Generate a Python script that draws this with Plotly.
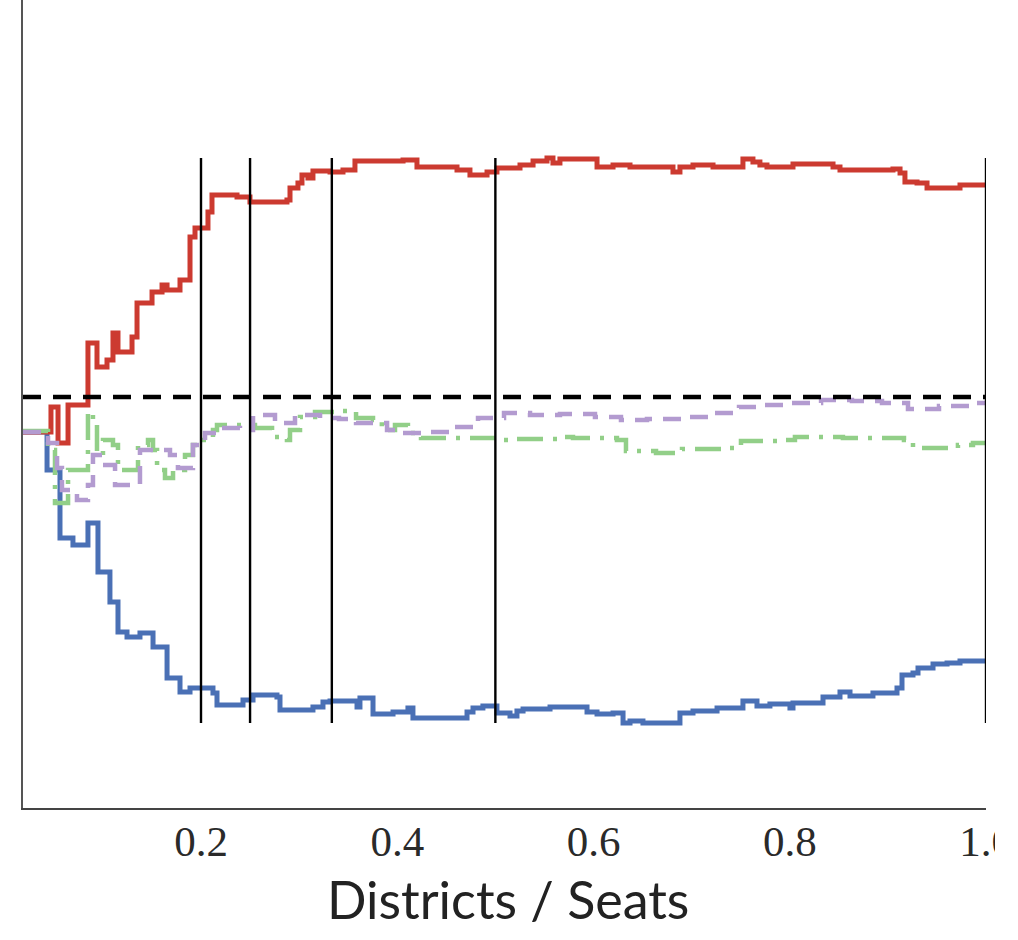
import plotly.graph_objects as go

# ---- data (x = districts/seats fraction, y = metric value, 0 = reference) ----
red_x = [0.0186, 0.0471, 0.0543, 0.0645, 0.0848, 0.0940, 0.1042, 0.1103, 0.1154, 0.1297,
         0.1348, 0.1501, 0.1603, 0.1654, 0.1786, 0.1888, 0.1939, 0.2071, 0.2112, 0.2367,
         0.2499, 0.2876, 0.2907, 0.2988, 0.3029, 0.3090, 0.3141, 0.3315, 0.3447, 0.3569,
         0.4059, 0.4201, 0.4609, 0.4741, 0.4812, 0.4915, 0.5016, 0.5251, 0.5384, 0.5526,
         0.5587, 0.5658, 0.5934, 0.6036, 0.6199, 0.6372, 0.6677, 0.6810, 0.6881, 0.7014,
         0.7218, 0.7523, 0.7625, 0.7696, 0.7768, 0.8033, 0.8441, 0.8512, 0.9052, 0.9124,
         0.9174, 0.9297, 0.9399, 0.9664, 0.9735, 1.0]
red_y = [-0.035, -0.010, -0.046, -0.008, 0.054, 0.030, 0.037, 0.064, 0.045, 0.060,
         0.094, 0.105, 0.112, 0.107, 0.117, 0.160, 0.169, 0.185, 0.202, 0.200,
         0.195, 0.197, 0.209, 0.214, 0.222, 0.219, 0.226, 0.225, 0.227, 0.236,
         0.237, 0.230, 0.227, 0.222, 0.222, 0.225, 0.229, 0.232, 0.236, 0.239,
         0.234, 0.238, 0.238, 0.230, 0.232, 0.230, 0.230, 0.225, 0.230, 0.232,
         0.230, 0.238, 0.235, 0.232, 0.230, 0.233, 0.230, 0.227, 0.228, 0.224,
         0.215, 0.214, 0.209, 0.209, 0.212, 0.213]

blue_x = [0.0186, 0.0431, 0.0563, 0.0695, 0.0848, 0.0950, 0.1072, 0.1154, 0.1246, 0.1378,
          0.1511, 0.1654, 0.1786, 0.1888, 0.2122, 0.2163, 0.2428, 0.2530, 0.2774, 0.2805,
          0.3141, 0.3243, 0.3315, 0.3590, 0.3620, 0.3753, 0.3957, 0.4109, 0.4160, 0.4711,
          0.4772, 0.4873, 0.5016, 0.5149, 0.5220, 0.5282, 0.5557, 0.5934, 0.6036, 0.6199,
          0.6301, 0.6372, 0.6504, 0.6881, 0.7014, 0.7259, 0.7523, 0.7666, 0.7798, 0.8002,
          0.8033, 0.8339, 0.8512, 0.8614, 0.8848, 0.9093, 0.9144, 0.9256, 0.9307, 0.9460,
          0.9603, 0.9735, 1.0]
blue_y = [-0.035, -0.073, -0.141, -0.148, -0.126, -0.175, -0.205, -0.235, -0.240, -0.236,
          -0.250, -0.281, -0.295, -0.291, -0.296, -0.308, -0.303, -0.298, -0.300, -0.313,
          -0.310, -0.305, -0.304, -0.310, -0.301, -0.317, -0.315, -0.311, -0.321, -0.315,
          -0.311, -0.309, -0.316, -0.319, -0.314, -0.312, -0.310, -0.315, -0.317, -0.316,
          -0.326, -0.324, -0.326, -0.316, -0.314, -0.311, -0.304, -0.309, -0.307, -0.311,
          -0.306, -0.300, -0.295, -0.299, -0.296, -0.291, -0.278, -0.276, -0.271, -0.267,
          -0.266, -0.264, -0.262]

green_x = [0.0186, 0.0441, 0.0512, 0.0645, 0.0848, 0.0899, 0.0940, 0.1001, 0.1103, 0.1154,
           0.1358, 0.1460, 0.1511, 0.1552, 0.1633, 0.1715, 0.1837, 0.1918, 0.1990, 0.2122,
           0.2163, 0.2550, 0.2724, 0.2876, 0.2907, 0.3009, 0.3162, 0.3447, 0.3580, 0.3753,
           0.3843, 0.3977, 0.4109, 0.4242, 0.5047, 0.5188, 0.5658, 0.5791, 0.6239, 0.6331,
           0.6637, 0.6902, 0.7370, 0.7503, 0.7921, 0.8053, 0.8542, 0.9164, 0.9256, 0.9714,
           0.9867, 1.0]
green_y = [-0.034, -0.053, -0.106, -0.073, -0.015, -0.028, -0.058, -0.043, -0.048, -0.073,
           -0.048, -0.043, -0.053, -0.073, -0.081, -0.073, -0.058, -0.048, -0.043, -0.033,
           -0.028, -0.031, -0.040, -0.043, -0.033, -0.020, -0.015, -0.014, -0.021, -0.023,
           -0.033, -0.028, -0.036, -0.041, -0.043, -0.042, -0.040, -0.041, -0.043, -0.054,
           -0.056, -0.052, -0.051, -0.044, -0.043, -0.040, -0.041, -0.043, -0.051, -0.048,
           -0.046, -0.046]

purple_x = [0.0186, 0.0441, 0.0533, 0.0583, 0.0736, 0.0848, 0.0899, 0.1001, 0.1124, 0.1378,
            0.1552, 0.1684, 0.1765, 0.1918, 0.2041, 0.2194, 0.2397, 0.2530, 0.2754, 0.2958,
            0.3213, 0.3406, 0.3580, 0.3896, 0.4028, 0.4242, 0.4558, 0.4823, 0.5088, 0.5353,
            0.5658, 0.6015, 0.6280, 0.6545, 0.6902, 0.7167, 0.7483, 0.7697, 0.8013, 0.8319,
            0.8634, 0.8940, 0.9205, 0.9521, 0.9827, 1.0]
purple_y = [-0.035, -0.046, -0.071, -0.093, -0.103, -0.088, -0.058, -0.068, -0.088, -0.053,
            -0.053, -0.058, -0.071, -0.048, -0.036, -0.031, -0.033, -0.018, -0.026, -0.018,
            -0.021, -0.022, -0.026, -0.033, -0.036, -0.035, -0.030, -0.021, -0.016, -0.018,
            -0.017, -0.020, -0.023, -0.022, -0.020, -0.016, -0.010, -0.008, -0.006, -0.003,
            -0.004, -0.006, -0.012, -0.009, -0.006, -0.006]

ref_level = 0.0
vline_x = [0.2, 0.25, 1 / 3, 0.5, 1.0]
x_ticks = [0.2, 0.4, 0.6, 0.8, 1.0]
x_tick_text = ["0.2", "0.4", "0.6", "0.8", "1.0"]
x_title = "Districts / Seats"

x_range = [0.0186, 1.0]
y_range = [-0.411, 0.397]

fig = go.Figure()
fig.add_trace(go.Scatter(x=blue_x, y=blue_y, mode="lines", line_shape="hv",
                         line=dict(color="#4a70b5", width=5), showlegend=False))
fig.add_trace(go.Scatter(x=red_x, y=red_y, mode="lines", line_shape="hv",
                         line=dict(color="#cc3a30", width=5), showlegend=False))
fig.add_trace(go.Scatter(x=green_x, y=green_y, mode="lines", line_shape="hv",
                         line=dict(color="#92cf88", width=4.5, dash="26px,10px,4px,10px"),
                         showlegend=False))
fig.add_trace(go.Scatter(x=purple_x, y=purple_y, mode="lines", line_shape="hv",
                         line=dict(color="#b39bd0", width=4.5, dash="18px,11px"),
                         showlegend=False))
fig.add_trace(go.Scatter(x=x_range, y=[ref_level, ref_level], mode="lines",
                         line=dict(color="black", width=4.5, dash="18px,12px"),
                         showlegend=False))

vmin = min(blue_y)
vmax = max(red_y)
for vx in vline_x:
    fig.add_shape(type="line", xref="x", yref="y", x0=vx, x1=vx, y0=vmin, y1=vmax,
                  line=dict(color="black", width=2.4), layer="above")

# crop effect on the right edge (reference image is cut through the last tick label)
fig.add_shape(type="rect", xref="paper", yref="paper", x0=1.0 + 9 / 963, x1=1.2,
              y0=-0.2, y1=-0.005, fillcolor="white", line=dict(width=0), layer="above")

fig.add_annotation(text=x_title, xref="paper", yref="paper", x=0.504, y=-0.113,
                   xanchor="center", yanchor="middle", showarrow=False,
                   font=dict(family="Lato, sans-serif", size=52, color="#222"))

fig.update_layout(
    width=1018, height=940,
    margin=dict(l=23, r=32, t=0, b=132),
    plot_bgcolor="white", paper_bgcolor="white",
    xaxis=dict(range=x_range, showgrid=False, zeroline=False, showline=True,
               linecolor="#444", linewidth=2, ticks="", tickvals=x_ticks,
               ticktext=x_tick_text, ticklabelstandoff=-6,
               tickfont=dict(family="Liberation Serif, serif", size=43, color="#2a2a2a")),
    yaxis=dict(range=y_range, showgrid=False, zeroline=False, showline=True,
               linecolor="#555", linewidth=2, ticks="", showticklabels=False),
)

fig.write_html("out.html")
